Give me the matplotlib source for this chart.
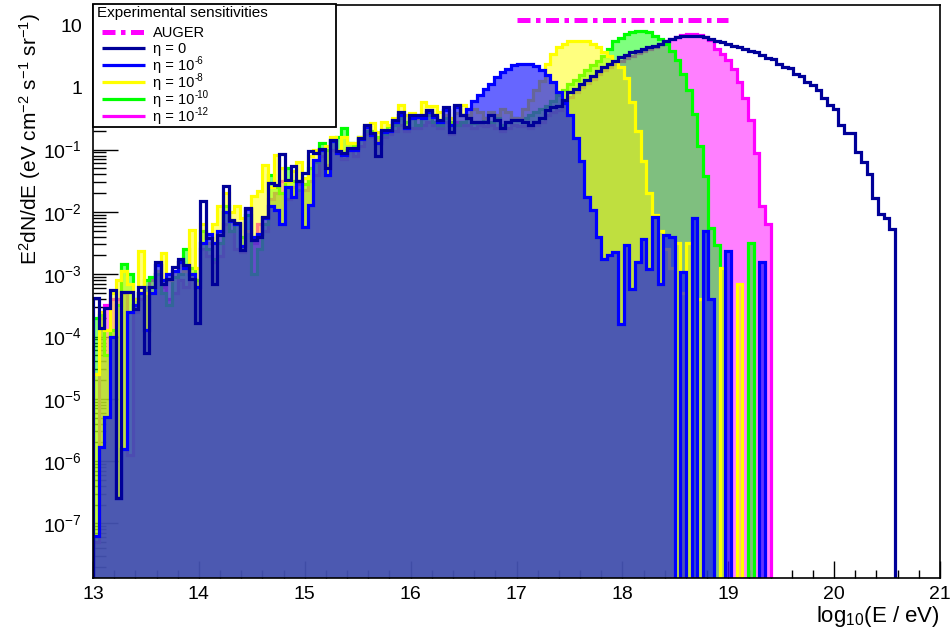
import numpy as np
import matplotlib
matplotlib.use("Agg")
import matplotlib.pyplot as plt
from matplotlib.ticker import FixedLocator, FuncFormatter, MultipleLocator, LogLocator, NullFormatter
from matplotlib.lines import Line2D
from matplotlib.patches import Rectangle

plt.rcParams['font.family'] = ['Liberation Sans', 'DejaVu Sans']
plt.rcParams['mathtext.fontset'] = 'custom'
plt.rcParams['mathtext.rm'] = 'Liberation Sans'
plt.rcParams['mathtext.it'] = 'Liberation Sans:italic'
plt.rcParams['mathtext.bf'] = 'Liberation Sans:bold'
plt.rcParams['mathtext.default'] = 'regular'

# ---------------- data ----------------
E_MIN, E_MAX, N_BINS = 13.0, 21.0, 150
N = None
# log10 of E^2 dN/dE per bin (None = empty bin)
log_eta0 = [
    -3.39, -3.87, -3.55, -3.25, -6.60, -3.28, -3.28, -3.56, -3.20, -4.27,
    -3.20, -2.80, -3.15, -3.07, -2.88, -2.76, -2.85, -3.07, -3.79, -1.83,
    -2.42, -3.15, -2.37, -1.59, -2.13, -2.18, -2.61, -1.94, -2.45, -2.40,
    -2.08, -1.54, -1.57, -1.07, -1.49, -1.27, -1.51, -1.37, -1.03, -1.06,
    -0.99, -1.30, -0.84, -1.03, -1.06, -0.98, -0.98, -0.82, -0.61, -0.74,
    -1.11, -0.69, -0.69, -0.53, -0.39, -0.63, -0.45, -0.45, -0.45, -0.36,
    -0.45, -0.53, -0.32, -0.71, -0.28, -0.45, -0.50, -0.55, -0.55, -0.55,
    -0.45, -0.53, -0.66, -0.55, -0.53, -0.53, -0.55, -0.60, -0.55, -0.50,
    -0.37, -0.32, -0.30, -0.20, -0.08, -0.03, 0.05, 0.12, 0.18, 0.26,
    0.32, 0.38, 0.43, 0.48, 0.52, 0.56, 0.59, 0.62, 0.65, 0.67,
    0.70, 0.74, 0.77, 0.80, 0.82, 0.83, 0.83, 0.82, 0.80, 0.77,
    0.74, 0.72, 0.70, 0.67, 0.64, 0.61, 0.59, 0.56, 0.52, 0.47,
    0.45, 0.37, 0.32, 0.31, 0.22, 0.18, 0.09, 0.03, -0.05, -0.17,
    -0.29, -0.35, -0.61, -0.74, -0.74, -1.04, -1.20, -1.39, -1.77, -2.03,
    -2.09, -2.28, N, N, N, N, N, N, N, N,
]
log_eta6 = [
    -7.20, -5.77, -5.30, -4.00, -6.60, -5.80, -3.60, -3.50, -3.30, -3.90,
    -3.30, -2.85, -3.10, -3.00, -2.95, -2.80, -2.90, -3.00, -3.20, -2.50,
    -2.35, -2.50, -2.30, -2.00, -2.15, -2.20, -2.55, -1.95, -2.40, -2.35,
    -2.10, -1.90, -1.97, -2.20, -1.60, -1.76, -1.50, -2.24, -1.89, -1.17,
    -1.00, -1.41, -0.86, -1.05, -1.08, -1.00, -1.00, -0.83, -0.63, -0.76,
    -0.90, -0.72, -0.70, -0.56, -0.45, -0.65, -0.50, -0.47, -0.50, -0.40,
    -0.48, -0.55, -0.36, -0.60, -0.32, -0.45, -0.35, -0.22, -0.12, -0.02,
    0.06, 0.16, 0.24, 0.30, 0.35, 0.38, 0.38, 0.37, 0.34, 0.28,
    0.20, 0.08, -0.08, -0.25, -0.44, -0.82, -1.19, -1.76, -1.97, -2.40,
    -2.76, -2.69, -2.65, -3.80, -2.53, -3.23, -2.80, -2.44, -2.91, -2.08,
    -3.15, -2.37, -2.41, N, -2.96, N, -2.10, N, -2.30, -3.40,
    N, N, -2.62, N, N, N, N, N, -2.80, N,
    N, N, N, N, N, N, N, N, N, N,
    N, N, N, N, N, N, N, N, N, N,
    N, N, N, N, N, N, N, N, N, N,
]
log_eta8 = [
    -4.60, -3.60, -3.90, -3.30, -3.10, -2.95, -3.15, -3.40, -2.63, -3.30,
    -3.30, -2.95, -2.66, -3.10, -2.95, -2.80, -2.95, -2.29, -2.90, -2.20,
    -2.50, -2.20, -1.90, -1.70, -2.00, -1.90, -2.10, -2.30, -1.75, -1.67,
    -1.25, -1.60, -1.09, -1.30, -1.50, -1.35, -1.20, -1.45, -1.10, -1.00,
    -1.00, -0.95, -0.80, -1.00, -0.80, -0.90, -0.90, -0.80, -0.60, -0.58,
    -0.72, -0.55, -0.60, -0.50, -0.28, -0.45, -0.42, -0.50, -0.23, -0.30,
    -0.30, -0.40, -0.45, -0.50, -0.42, -0.28, -0.45, -0.35, -0.40, -0.50,
    -0.40, -0.45, -0.35, -0.40, -0.50, -0.50, -0.35, -0.20, -0.05, 0.10,
    0.38, 0.53, 0.64, 0.70, 0.74, 0.75, 0.75, 0.74, 0.70, 0.64,
    0.57, 0.50, 0.42, 0.32, 0.15, -0.24, -0.70, -1.18, -1.70, -2.05,
    -2.30, -2.60, -2.90, -2.50, -3.30, -2.50, N, -3.40, N, N,
    N, -2.90, N, N, -3.15, N, N, N, N, N,
    N, N, N, N, N, N, N, N, N, N,
    N, N, N, N, N, N, N, N, N, N,
    N, N, N, N, N, N, N, N, N, N,
]
log_eta10 = [
    -3.70, -3.65, -4.30, -3.90, -3.50, -2.84, -3.00, -3.40, -3.30, -3.10,
    -3.05, -3.00, -3.30, -3.50, -3.05, -3.00, -2.60, -2.90, -3.10, -2.30,
    -2.60, -2.75, -2.50, -1.90, -2.30, -2.20, -2.40, -2.05, -3.00, -2.60,
    -2.20, -1.40, -1.60, -1.70, -1.30, -1.50, -1.65, -1.55, -1.30, -1.20,
    -0.90, -1.00, -0.85, -0.80, -0.65, -0.90, -0.95, -0.80, -0.70, -0.70,
    -0.80, -0.75, -0.62, -0.60, -0.50, -0.55, -0.50, -0.60, -0.50, -0.45,
    -0.55, -0.60, -0.50, -0.55, -0.60, -0.55, -0.50, -0.58, -0.55, -0.50,
    -0.55, -0.50, -0.60, -0.55, -0.50, -0.52, -0.50, -0.45, -0.40, -0.35,
    -0.30, -0.22, -0.12, -0.05, 0.05, 0.12, 0.20, 0.28, 0.35, 0.42,
    0.50, 0.62, 0.74, 0.79, 0.85, 0.89, 0.91, 0.91, 0.88, 0.83,
    0.78, 0.70, 0.59, 0.44, 0.21, -0.05, -0.43, -0.95, -1.42, -2.26,
    -2.53, -2.90, N, N, N, N, -2.50, N, N, N,
    N, N, N, N, N, N, N, N, N, N,
    N, N, N, N, N, N, N, N, N, N,
    N, N, N, N, N, N, N, N, N, N,
]
log_eta12 = [
    -7.30, -3.70, -3.50, -3.40, -3.40, -3.30, -5.90, -3.60, -3.40, -3.20,
    -3.10, -3.00, -3.20, -3.40, -3.30, -3.10, -3.20, -3.00, -3.10, -2.60,
    -2.70, -2.80, -2.70, -2.20, -2.30, -2.60, -2.65, -2.30, -2.50, -2.20,
    -2.30, -1.80, -1.70, -1.50, -1.80, -1.60, -1.55, -1.65, -1.50, -1.40,
    -1.10, -1.25, -1.00, -1.05, -1.15, -1.00, -1.10, -0.95, -0.75, -0.80,
    -0.85, -0.80, -0.75, -0.70, -0.60, -0.70, -0.65, -0.65, -0.60, -0.55,
    -0.60, -0.65, -0.55, -0.75, -0.55, -0.60, -0.60, -0.65, -0.60, -0.62,
    -0.60, -0.65, -0.70, -0.65, -0.60, -0.62, -0.62, -0.65, -0.60, -0.55,
    -0.45, -0.40, -0.36, -0.26, -0.15, -0.08, 0.00, 0.07, 0.13, 0.21,
    0.27, 0.33, 0.38, 0.43, 0.47, 0.51, 0.55, 0.58, 0.62, 0.65,
    0.69, 0.74, 0.78, 0.81, 0.84, 0.85, 0.85, 0.84, 0.81, 0.76,
    0.62, 0.53, 0.44, 0.29, 0.09, -0.17, -0.52, -1.05, -1.90, -2.20,
    N, N, N, N, N, N, N, N, N, N,
    N, N, N, N, N, N, N, N, N, N,
    N, N, N, N, N, N, N, N, N, N,
]
auger_E = [17.0, 19.0]
auger_flux = [12.0, 12.0]

legend_title = "Experimental sensitivities"
legend_main = ["AUGER", "\u03b7 = 0", "\u03b7 = 10", "\u03b7 = 10", "\u03b7 = 10", "\u03b7 = 10"]
legend_sup = [None, None, "-6", "-8", "-10", "-12"]

# ---------------- styles ----------------
C_NAVY = "#000099"
C_BLUE = "#0000ff"
C_YEL = "#ffff00"
C_GRN = "#00ff00"
C_MAG = "#ff00ff"
FLOOR = 1e-12

W, H = 953, 632
fig = plt.figure(figsize=(W / 100, H / 100), dpi=100)
L, R, T, B = 93, 940, 5, 578
ax = fig.add_axes([L / W, 1 - B / H, (R - L) / W, (B - T) / H])

edges = np.linspace(E_MIN, E_MAX, N_BINS + 1)

def to_vals(logs):
    return np.array([FLOOR if v is None else 10.0 ** v for v in logs])

filled = [(log_eta12, C_MAG, 0.5), (log_eta10, C_GRN, 0.5), (log_eta8, C_YEL, 0.5),
          (log_eta6, C_BLUE, 0.6)]
z = 2
for logs, col, a in filled:
    v = to_vals(logs)
    ax.stairs(v, edges, baseline=FLOOR, fill=True, facecolor=col, alpha=a,
              linewidth=0, zorder=z)
    ax.stairs(v, edges, baseline=FLOOR, fill=False, color=col, linewidth=2.3,
              zorder=z + 0.5)
    z += 1
ax.stairs(to_vals(log_eta0), edges, baseline=FLOOR, fill=False, color=C_NAVY,
          linewidth=2.3, zorder=10)

ax.plot(auger_E, auger_flux, color=C_MAG, linewidth=3.6, dashes=(2.6, 1.1, 0.9, 1.1),
        solid_capstyle='butt', dash_capstyle='butt', zorder=11)

ax.set_xlim(E_MIN, E_MAX)
ax.set_yscale('log')
ax.set_ylim(10 ** (1 - (B - 25) / 62.3), 10 ** (1 + (25 - T) / 62.3))

ax.xaxis.set_major_locator(MultipleLocator(1))
ax.xaxis.set_minor_locator(MultipleLocator(0.2))
ax.xaxis.set_major_formatter(FuncFormatter(lambda x, p: "%d" % round(x)))
decades = [10.0 ** k for k in range(-7, 2)]
ax.yaxis.set_major_locator(FixedLocator(decades))
ax.yaxis.set_minor_locator(LogLocator(base=10, subs=np.arange(2, 10), numticks=30))
ax.yaxis.set_minor_formatter(NullFormatter())

def yfmt(y, p):
    k = int(round(np.log10(y)))
    if k == 1:
        return "10"
    if k == 0:
        return "1"
    return "10$^{%d}$" % k
ax.yaxis.set_major_formatter(FuncFormatter(yfmt))

ax.tick_params(axis='x', which='major', direction='in', length=12, width=1.0,
               labelsize=14, pad=6, top=False)
ax.tick_params(axis='x', which='minor', direction='in', length=6, width=1.0, top=False)
ax.tick_params(axis='y', which='major', direction='in', length=18, width=1.0,
               labelsize=14, pad=8, right=False)
ax.tick_params(axis='y', which='minor', direction='in', length=9, width=1.0, right=False)
for sp in ax.spines.values():
    sp.set_linewidth(1.2)
    sp.set_zorder(20)

def fx(x):
    return x / W

def fy(y):
    return 1 - y / H

fig.text(fx(940), fy(622), "log$_{10}$(E / eV)", ha='right', va='baseline', fontsize=16)
fig.text(fx(30), fy(13), "E$^{2}$dN/dE (eV cm$^{-2}$ s$^{-1}$ sr$^{-1}$)", rotation=90,
         ha='center', va='top', fontsize=15)

# legend
box = Rectangle((fx(93), fy(127)), fx(336) - fx(93), fy(4) - fy(127),
                transform=fig.transFigure, facecolor='white', edgecolor='black',
                linewidth=1.3, zorder=30)
fig.add_artist(box)
fig.text(fx(97), fy(13), legend_title, ha='left', va='center', fontsize=11, zorder=31)
rows_y = [32, 48, 65, 82, 99, 116]
styles = [(C_MAG, 3.6, (2.6, 1.1, 0.9, 1.1)), (C_NAVY, 2.3, None), (C_BLUE, 2.3, None),
          (C_YEL, 2.3, None), (C_GRN, 2.3, None), (C_MAG, 2.3, None)]
renderer = fig.canvas.get_renderer()
for yy, lab, sup, (col, lw, ds) in zip(rows_y, legend_main, legend_sup, styles):
    ln = Line2D([fx(102), fx(145)], [fy(yy), fy(yy)], transform=fig.transFigure,
                color=col, linewidth=lw, zorder=31, solid_capstyle='butt')
    if ds is not None:
        ln.set_dashes(ds)
        ln.set_dash_capstyle('butt')
    fig.add_artist(ln)
    t = fig.text(fx(153), fy(yy + 5), lab, ha='left', va='baseline', fontsize=10.5,
                 zorder=31)
    if sup is not None:
        bb = t.get_window_extent(renderer=renderer)
        fig.text(bb.x1 / W + 0.5 / W, fy(yy - 1), sup, ha='left', va='baseline',
                 fontsize=7, zorder=31)

fig.savefig("out.png", dpi=100)
